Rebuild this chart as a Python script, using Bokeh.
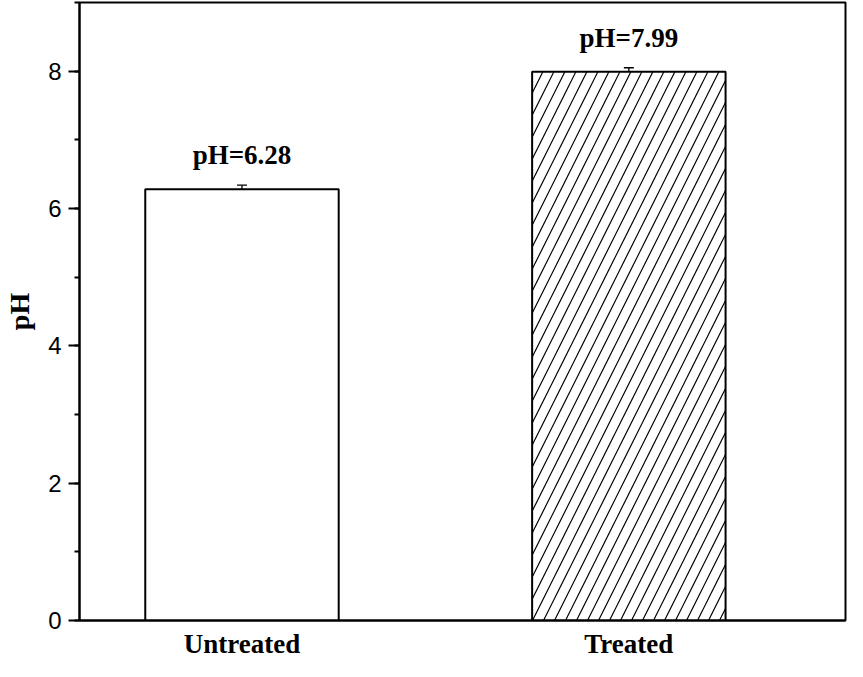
from bokeh.plotting import figure
from bokeh.models import (Range1d, FixedTicker, SingleIntervalTicker, ColumnDataSource,
                          Whisker, TeeHead)
from bokeh.core.properties import value
from bokeh.embed import file_html
from bokeh.resources import INLINE

categories = ["Untreated", "Treated"]
ph_values = [6.28, 7.99]
ph_errors = [0.06, 0.06]
hatches = ["blank", "right_diagonal_line"]

xs = [i + 1 for i in range(len(categories))]
labels = [f"pH={v:.2f}" for v in ph_values]
src = ColumnDataSource(dict(
    x=xs, top=ph_values, hatch=hatches, label=labels,
    upper=[v + e for v, e in zip(ph_values, ph_errors)],
    lower=[v - e for v, e in zip(ph_values, ph_errors)],
))

p = figure(width=847, height=661, output_backend="svg", toolbar_location=None,
           x_range=Range1d(0.58, 2.56), y_range=Range1d(0, 9),
           min_border_left=79, min_border_right=2, min_border_top=2, min_border_bottom=39)
p.background_fill_color = "white"
p.border_fill_color = "white"
p.grid.visible = False
p.outline_line_color = "black"
p.outline_line_width = 2

p.vbar(x="x", top="top", width=0.5, bottom=0, source=src,
       fill_color="white", line_color="black", line_width=2,
       hatch_pattern="hatch", hatch_color="black", hatch_scale=22, hatch_weight=1.2)

w = Whisker(base="x", upper="upper", lower="lower", source=src,
            line_color="black", line_width=1.3,
            upper_head=TeeHead(size=10, line_color="black", line_width=1.3),
            lower_head=TeeHead(size=10, line_color="black", line_width=1.3))
p.add_layout(w)

p.text(x="x", y="top", text="label", source=src, text_align="center",
       text_baseline="bottom", y_offset=-19, text_font=value("Liberation Serif"),
       text_font_style="bold", text_font_size="27px", text_color="black")

# y axis
p.yaxis.ticker = SingleIntervalTicker(interval=2, num_minor_ticks=2)
p.yaxis.major_tick_out = 11
p.yaxis.major_tick_in = 0
p.yaxis.minor_tick_out = 5
p.yaxis.minor_tick_in = 0
p.yaxis.major_tick_line_width = 2
p.yaxis.minor_tick_line_width = 2
p.yaxis.axis_line_width = 2
p.yaxis.major_label_text_font = "Liberation Sans"
p.yaxis.major_label_text_font_size = "24px"
p.yaxis.major_label_text_color = "black"
p.yaxis.major_label_standoff = 7
p.yaxis.axis_label = "pH"
p.yaxis.axis_label_text_font = "Liberation Serif"
p.yaxis.axis_label_text_font_style = "bold"
p.yaxis.axis_label_text_font_size = "28px"
p.yaxis.axis_label_text_color = "black"
p.yaxis.axis_label_standoff = 10

# x axis
p.xaxis.ticker = FixedTicker(ticks=xs, minor_ticks=[])
p.xaxis.major_label_overrides = {x: c for x, c in zip(xs, categories)}
p.xaxis.major_tick_out = 0
p.xaxis.major_tick_in = 0
p.xaxis.minor_tick_out = 0
p.xaxis.axis_line_width = 2
p.xaxis.major_label_text_font = "Liberation Serif"
p.xaxis.major_label_text_font_style = "bold"
p.xaxis.major_label_text_font_size = "27px"
p.xaxis.major_label_text_color = "black"
p.xaxis.major_label_standoff = 8

open("out.html", "w").write(file_html(p, INLINE))
